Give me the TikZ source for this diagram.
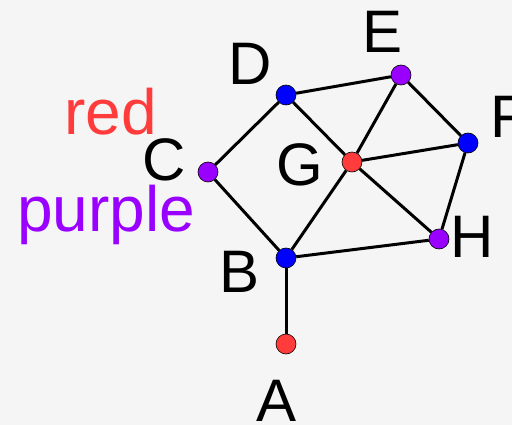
\documentclass[tikz,border=0pt]{standalone}
\usepackage{fontspec}
\setmainfont{Liberation Sans}
\definecolor{vred}{RGB}{255,59,59}
\definecolor{vblue}{RGB}{0,0,255}
\definecolor{vpurple}{RGB}{153,0,255}
\definecolor{bgray}{RGB}{245,245,245}
\tikzset{
  vtx/.style={circle,draw=black,line width=0.6pt,minimum size=20pt,inner sep=0pt},
  lbl/.style={font=\fontsize{60}{60}\selectfont,inner sep=0pt},
  edge/.style={line width=3pt}
}
\begin{document}
\begin{tikzpicture}[x=1pt,y=-1pt]
        \fill[bgray] (0,0) rectangle (512,425); %背景
        \useasboundingbox (0,0) rectangle (512,425);
        % 頂点
        \node[vtx,fill=vred] (A) at (286,344) {};
        \node[vtx,fill=vblue] (B) at (286,258) {};
        \node[vtx,fill=vpurple] (C) at (208,172) {};
        \node[vtx,fill=vblue] (D) at (286,95) {};
        \node[vtx,fill=vpurple] (E) at (401,75) {};
        \node[vtx,fill=vblue] (F) at (468,143) {};
        \node[vtx,fill=vred] (G) at (352,162) {};
        \node[vtx,fill=vpurple] (H) at (439,239) {};
        % 辺
        \draw[edge] (D)--(E);
        \draw[edge] (D)--(C);
        \draw[edge] (D)--(G);
        \draw[edge] (C)--(B);
        \draw[edge] (B)--(G);
        \draw[edge] (B)--(H);
        \draw[edge] (B)--(A);
        \draw[edge] (G)--(E);
        \draw[edge] (G)--(F);
        \draw[edge] (G)--(H);
        \draw[edge] (E)--(F);
        \draw[edge] (F)--(H);
        % ラベル
        \node[lbl] (labA) at (277,401) {A};
        \node[lbl] (labB) at (240,272) {B};
        \node[lbl] (labC) at (164,160) {C};
        \node[lbl] (labD) at (250,64) {D};
        \node[lbl] (labE) at (383,32) {E};
        \node[lbl,anchor=west] (labF) at (490,117) {F};
        \node[lbl] (labG) at (300,165) {G};
        \node[lbl] (labH) at (472,237) {H};
        \node[lbl,font=\fontsize{64}{64}\selectfont,text=vred,anchor=base] (red) at (110.5,135) {red};
        \node[lbl,font=\fontsize{64}{64}\selectfont,text=vpurple,anchor=base] (purple) at (106,232) {purple};
    \end{tikzpicture}
\end{document}
